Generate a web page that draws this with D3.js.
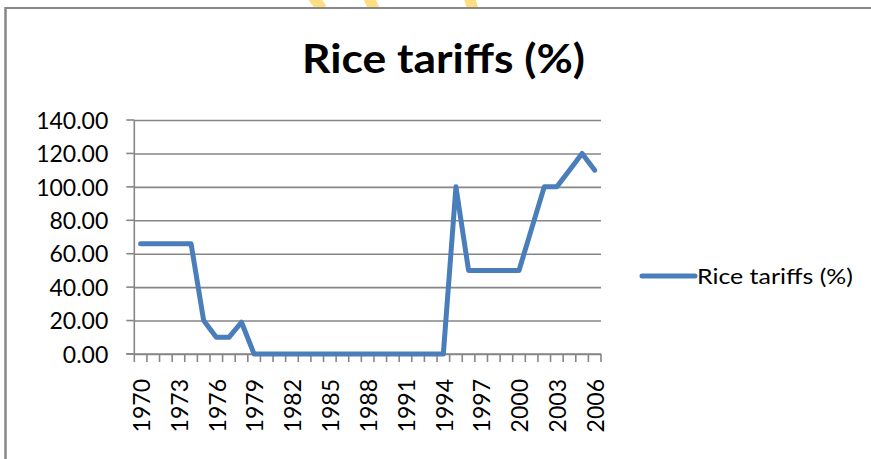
<!DOCTYPE html>
<html>
<head>
<meta charset="utf-8">
<script src="https://cdn.jsdelivr.net/npm/d3@7"></script>
<style>
  html, body { margin: 0; padding: 0; background: #ffffff; }
  svg { display: block; }
</style>
</head>
<body>
<svg id="chart" width="871" height="459"></svg>
<script>
// ---- data ----
const years = d3.range(1970, 2007);
const tariffs = [66, 66, 66, 66, 66, 20, 10, 10, 19, 0,
                 0, 0, 0, 0, 0, 0, 0, 0, 0, 0,
                 0, 0, 0, 0, 0, 100, 50, 50, 50, 50,
                 50, 75, 100, 100, 110, 120, 110];
const yTicks = [0, 20, 40, 60, 80, 100, 120, 140];
const xLabelYears = [1970, 1973, 1976, 1979, 1982, 1985, 1988, 1991, 1994, 1997, 2000, 2003, 2006];
const seriesName = "Rice tariffs (%)";
const titleText = "Rice tariffs (%)";

const svg = d3.select("#chart");
const W = 871, H = 459;
const plot = { left: 134.3, right: 601, top: 120, bottom: 354 };
const lineColor = "#4A7EBB";
const gridColor = "#868686";

// decorative yellow strokes peeking above the frame
const deco = [[[311, -6], [322, 9]], [[367, -6], [374, 9]], [[468, -6], [473, 9]]];
svg.selectAll("line.deco").data(deco).join("line")
  .attr("class", "deco")
  .attr("x1", d => d[0][0]).attr("y1", d => d[0][1])
  .attr("x2", d => d[1][0]).attr("y2", d => d[1][1])
  .attr("stroke", "#FFDD82").attr("stroke-width", 11);

// frame (top and left visible)
svg.append("rect").attr("x", 0).attr("y", 8).attr("width", W).attr("height", H).attr("fill", "#fff");
svg.append("line").attr("x1", 5.5).attr("x2", W + 5).attr("y1", 8).attr("y2", 8)
  .attr("stroke", "#878787").attr("stroke-width", 2);
svg.append("line").attr("x1", 5.5).attr("x2", 5.5).attr("y1", 7).attr("y2", H + 5)
  .attr("stroke", "#878787").attr("stroke-width", 2.5);

// scales
const x = d3.scaleBand().domain(years).range([plot.left, plot.right]).padding(0);
const y = d3.scaleLinear().domain([0, 140]).range([plot.bottom, plot.top]);

// gridlines + y axis labels
const yAxis = d3.axisLeft(y).tickValues(yTicks)
  .tickSize(-(plot.right - plot.left))
  .tickFormat(d3.format(".2f"))
  .tickPadding(26);
const gy = svg.append("g").attr("transform", `translate(${plot.left},0)`).call(yAxis);
gy.select(".domain").remove();
gy.selectAll(".tick line").attr("stroke", gridColor).attr("stroke-width", 1.6);
gy.selectAll(".tick text")
  .attr("font-family", "Lato, 'Open Sans', sans-serif").attr("font-size", 23)
  .attr("fill", "#000").attr("dy", "0.36em");
// small stubs to the left of y axis
svg.append("g").selectAll("line").data(yTicks).join("line")
  .attr("x1", plot.left - 8).attr("x2", plot.left)
  .attr("y1", d => y(d)).attr("y2", d => y(d))
  .attr("stroke", gridColor).attr("stroke-width", 1.6);
// y axis line
svg.append("line").attr("x1", plot.left).attr("x2", plot.left)
  .attr("y1", plot.top).attr("y2", plot.bottom)
  .attr("stroke", gridColor).attr("stroke-width", 1.6);

// x axis line + boundary ticks
svg.append("line").attr("x1", plot.left - 8).attr("x2", plot.right)
  .attr("y1", plot.bottom).attr("y2", plot.bottom)
  .attr("stroke", gridColor).attr("stroke-width", 1.6);
const boundaries = years.map(v => x(v)).concat([x(years[years.length - 1]) + x.bandwidth()]);
svg.append("g").selectAll("line").data(boundaries).join("line")
  .attr("x1", d => d).attr("x2", d => d)
  .attr("y1", plot.bottom).attr("y2", plot.bottom + 8)
  .attr("stroke", gridColor).attr("stroke-width", 1.6);

// x labels via axis
const xAxis = d3.axisBottom(x).tickValues(xLabelYears).tickSize(0).tickPadding(0);
const gx = svg.append("g").attr("transform", `translate(0,${plot.bottom})`).call(xAxis);
gx.select(".domain").remove();
gx.selectAll(".tick text")
  .attr("font-family", "Lato, 'Open Sans', sans-serif").attr("font-size", 23)
  .attr("fill", "#000")
  .attr("transform", "translate(1,25) rotate(-90)")
  .attr("text-anchor", "end").attr("x", 0).attr("y", 0).attr("dy", "0.36em");

// series line
const line = d3.line()
  .x((d, i) => x(years[i]) + x.bandwidth() / 2)
  .y(d => y(d));
svg.append("path").datum(tariffs)
  .attr("d", line)
  .attr("fill", "none").attr("stroke", lineColor).attr("stroke-width", 5)
  .attr("stroke-linejoin", "round").attr("stroke-linecap", "round");

// title
svg.append("text").attr("x", 443.5).attr("y", 73)
  .attr("text-anchor", "middle")
  .attr("font-family", "Lato, 'Open Sans', sans-serif").attr("font-weight", "bold")
  .attr("font-size", 40).attr("fill", "#000")
  .attr("textLength", 283).attr("lengthAdjust", "spacingAndGlyphs")
  .text(titleText);

// legend
const lg = svg.append("g");
lg.append("line").attr("x1", 642).attr("x2", 695).attr("y1", 276).attr("y2", 276)
  .attr("stroke", lineColor).attr("stroke-width", 5).attr("stroke-linecap", "round");
lg.append("text").attr("x", 697).attr("y", 283.5)
  .attr("font-family", "Lato, 'Open Sans', sans-serif").attr("font-size", 21)
  .attr("fill", "#000")
  .attr("textLength", 156).attr("lengthAdjust", "spacingAndGlyphs")
  .text(seriesName);
</script>
</body>
</html>
